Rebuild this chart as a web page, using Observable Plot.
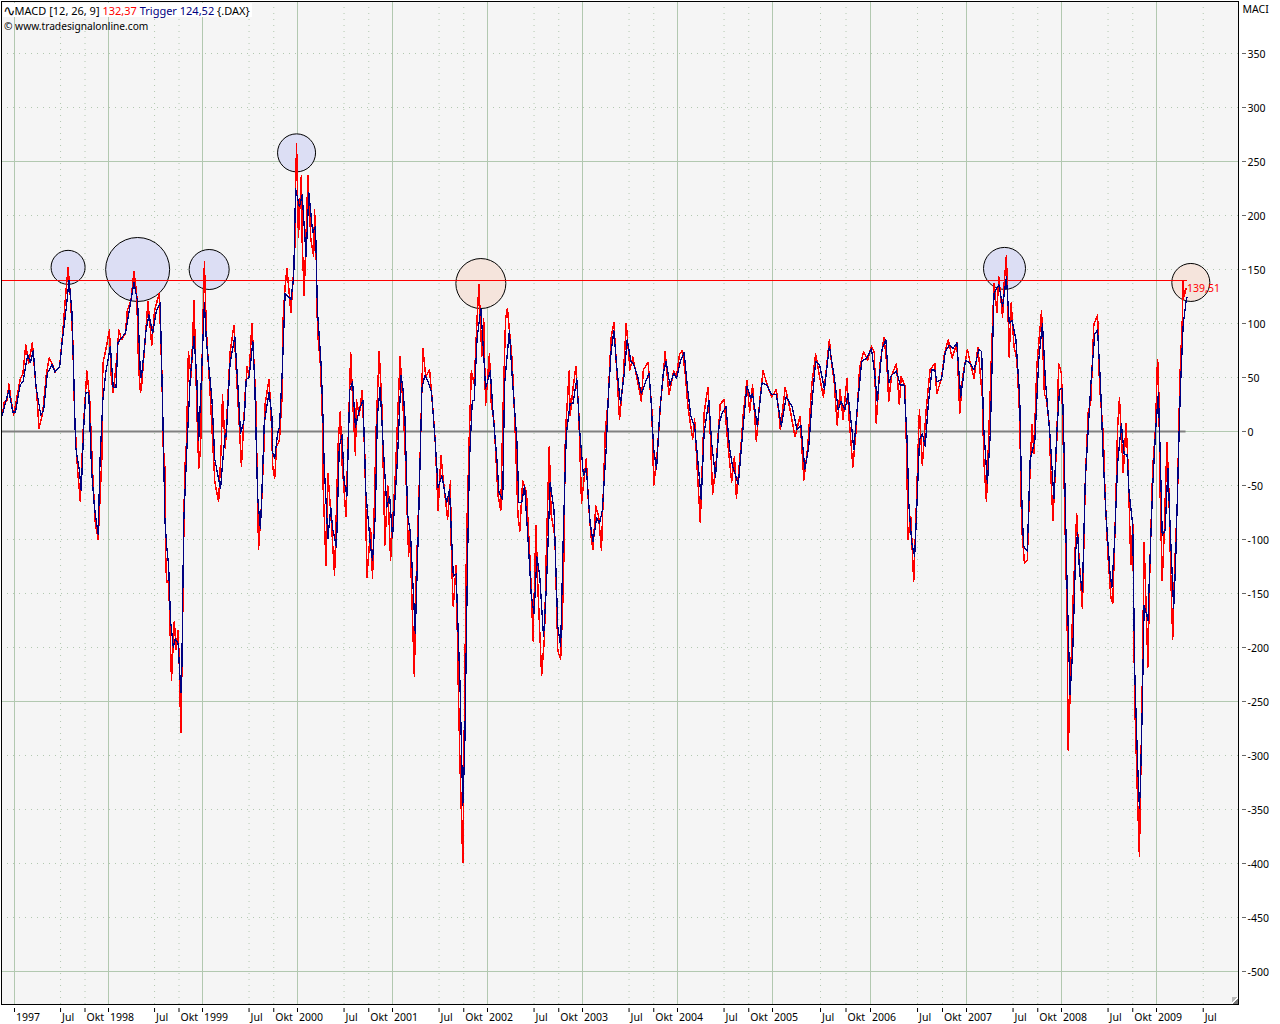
<!DOCTYPE html>
<html><head><meta charset="utf-8">
<script src="https://cdn.jsdelivr.net/npm/d3@7"></script>
<script src="https://cdn.jsdelivr.net/npm/@observablehq/plot@0.6"></script>
<style>
html,body{margin:0;padding:0;background:#fff}
#wrap{position:relative;width:1280px;height:1024px;font-family:"Noto Sans",sans-serif}
#wrap svg{display:block}
.hd{position:absolute;white-space:pre;color:#000;font-family:"Noto Sans",sans-serif;line-height:15px}
#h1{top:3px;left:3px;font-size:11px;background:#fff;padding:0 2px 0 0;height:14px}
#h1 b{font:400 15px "DejaVu Sans",sans-serif;line-height:14px;vertical-align:-1px;letter-spacing:-1px}
#h2{top:19px;left:4px;font-size:10.2px}
#grip{position:absolute;left:1232px;top:997px;width:6px;height:7px;background:linear-gradient(135deg,#bbb 0 45%,#fff 45% 60%,#777 60%)}
</style></head><body>
<div id="wrap">
<div id="chart"></div>
<div class="hd" id="h1"><b>∿</b>MACD [12, 26, 9] <span style="color:#f00">132,37</span> <span style="color:#000080">Trigger 124,52</span> {.DAX}</div>
<div class="hd" id="h2">© www.tradesignalonline.com</div>
<div id="grip"></div>
</div>
<script>
// x = hundredths of a year after Jan 1997 (1997 = 0, 1998 = 100 ...), y = indicator value
const macd1997=[[-13,15],[-11,27],[-8,29],[-6,44],[-4,31],[-1,15],[2,29],[6,48],[9,54],[12,80],[15,63],[19,82],[22,50],[24,31],[26,3],[30,17],[34,54],[37,68],[40,63],[43,55],[48,60],[51,88],[54,122],[57,152],[59,131],[62,85],[64,13],[67,-34],[70,-65],[73,0],[77,56],[80,30],[83,-36],[86,-85],[89,-100],[93,-23],[94,63],[97,75]];
const macd1998=[[101,94],[103,50],[105,36],[109,69],[111,94],[114,85],[118,91],[120,112],[124,122],[127,148],[130,128],[132,60],[134,36],[135,40],[139,85],[142,120],[146,80],[149,112],[154,128],[157,48],[158,-11],[160,-34],[161,-124],[162,-140],[164,-137],[167,-230],[170,-176],[172,-202],[174,-184],[175,-205],[177,-279],[179,-168],[181,-37],[183,-10],[185,74],[188,50],[191,121],[194,20],[196,-34],[198,-14]];
const macd1999=[[200,85],[202,157],[204,94],[208,36],[211,-14],[213,-47],[217,-65],[220,-8],[221,34],[224,-16],[229,73],[233,98],[238,17],[241,-32],[245,36],[247,60],[249,50],[252,100],[256,32],[258,-60],[259,-109],[262,-70],[265,-8],[266,26],[270,48],[272,20],[274,-33],[276,-43],[278,-14],[281,-8],[284,36],[285,106],[287,135],[289,151],[293,110],[295,135],[297,163]];
const macd2000=[[298,225],[299,266],[301,180],[304,237],[305,175],[307,126],[311,237],[314,178],[317,162],[318,205],[320,152],[321,94],[324,63],[326,20],[327,-51],[330,-124],[332,-39],[335,-75],[339,-133],[343,-8],[345,18],[347,-30],[351,-79],[356,73],[358,30],[361,-22],[362,29],[365,15],[368,38],[371,-25],[373,-135],[377,-90],[379,-136],[383,8],[386,74],[389,20],[392,-105],[395,-50],[398,-119]];
const macd2001=[[403,-40],[408,69],[411,25],[413,-10],[417,-116],[418,-86],[423,-227],[425,-134],[429,-27],[432,77],[435,51],[439,57],[441,37],[443,15],[445,-10],[448,-73],[451,-22],[453,-41],[458,-81],[461,-46],[462,-116],[464,-162],[467,-124],[469,-226],[471,-307],[474,-399],[476,-240],[478,-98],[481,1],[483,56],[486,44],[489,104],[491,136],[494,70],[496,104]];
const macd2002=[[498,24],[502,72],[504,26],[507,8],[511,-59],[514,-73],[516,8],[519,104],[521,114],[526,65],[529,5],[532,-77],[534,-92],[537,-46],[541,-56],[545,-123],[548,-194],[551,-87],[553,-144],[557,-226],[560,-190],[562,-109],[565,-14],[567,-77],[571,-98],[574,-203],[577,-211],[580,-141],[582,-2],[586,56],[587,15],[590,40],[593,60],[596,19],[599,-66]];
const macd2003=[[604,-25],[606,-62],[609,-97],[611,-109],[614,-69],[617,-79],[620,-110],[622,-54],[624,0],[627,29],[630,86],[633,101],[636,57],[639,11],[643,51],[646,100],[650,57],[653,69],[657,51],[662,28],[664,57],[669,64],[673,20],[675,-50],[679,-17],[682,25],[685,51],[687,74],[691,34],[696,56],[699,51]];
const macd2004=[[702,71],[705,75],[708,55],[711,23],[716,-7],[718,12],[721,-39],[724,-84],[728,17],[732,41],[734,8],[737,-58],[741,-26],[745,25],[749,30],[753,-11],[757,-47],[760,-23],[762,-62],[767,-11],[769,14],[773,47],[776,18],[779,43],[783,-9],[787,32],[790,56],[795,42],[799,32]];
const macd2005=[[804,39],[808,2],[813,41],[818,20],[823,-5],[828,14],[832,-45],[836,-14],[840,42],[844,72],[848,51],[852,32],[858,85],[860,66],[863,45],[866,6],[869,39],[872,11],[876,49],[878,14],[882,-33],[885,-2],[889,60],[893,74],[897,66]];
const macd2006=[[901,79],[904,73],[906,8],[910,63],[914,87],[917,63],[919,28],[922,52],[927,63],[930,25],[932,51],[936,42],[938,-35],[939,-100],[942,-79],[945,-139],[947,-90],[950,-5],[951,20],[954,-31],[958,20],[962,57],[967,63],[969,35],[974,49],[977,72],[981,85],[985,68],[990,82],[993,17],[996,51]];
const macd2007=[[1001,76],[1004,63],[1008,49],[1012,78],[1017,29],[1018,-23],[1021,-65],[1023,-15],[1026,63],[1029,137],[1032,110],[1034,143],[1038,106],[1039,130],[1042,163],[1045,69],[1047,119],[1050,79],[1053,66],[1056,14],[1058,-88],[1061,-122],[1064,-119],[1067,-32],[1069,6],[1071,-20],[1074,60],[1079,112],[1082,35],[1084,30],[1087,8],[1089,-45],[1091,-82],[1095,-10],[1097,63],[1100,54]];
const macd2008=[[1102,-17],[1106,-176],[1107,-295],[1109,-245],[1112,-159],[1116,-76],[1118,-110],[1122,-164],[1125,-48],[1128,17],[1131,29],[1134,99],[1138,108],[1140,43],[1144,-3],[1146,-62],[1149,-116],[1152,-154],[1154,-159],[1157,-72],[1159,3],[1161,31],[1165,-38],[1168,7],[1170,-30],[1173,-123],[1175,-86],[1177,-247],[1180,-339],[1182,-393],[1185,-236],[1187,-103],[1191,-218],[1193,-127],[1196,-34],[1199,3]];
const macd2009=[[1201,66],[1202,60],[1204,-65],[1206,-138],[1208,-96],[1211,-10],[1213,-55],[1215,-134],[1217,-192],[1219,-127],[1222,-62],[1224,27],[1225,60],[1227,101],[1228,139.51],[1229,125],[1231,132.37]];

const trigger1997=[[-13,15],[-10,26],[-6,38],[-2,18],[1,18],[6,43],[9,46],[14,71],[17,64],[20,75],[23,41],[28,15],[31,20],[35,54],[40,62],[43,55],[48,60],[51,85],[55,114],[58,140],[61,112],[63,54],[65,-14],[69,-36],[71,-55],[74,10],[76,36],[79,36],[82,-36],[85,-70],[89,-95],[91,-26],[94,29],[97,54]];
const trigger1998=[[102,79],[105,41],[108,41],[110,82],[114,87],[118,91],[123,117],[127,138],[131,120],[134,50],[135,50],[140,94],[143,108],[147,91],[151,112],[155,119],[158,8],[160,-82],[162,-107],[164,-125],[166,-175],[169,-200],[171,-192],[174,-196],[177,-242],[178,-221],[180,-85],[183,-23],[187,50],[191,88],[194,48],[196,-8],[199,54]];
const trigger1999=[[202,119],[204,85],[210,29],[213,-26],[219,-53],[222,-20],[224,-2],[225,-5],[229,63],[234,88],[238,32],[240,-2],[244,11],[246,48],[249,50],[253,83],[255,45],[258,-60],[261,-90],[263,-45],[265,8],[270,36],[273,15],[274,-20],[276,-25],[279,-2],[281,4],[284,57],[287,128],[290,125],[293,122],[296,143]];
const trigger2000=[[298,225],[302,208],[305,219],[309,162],[312,221],[316,184],[319,190],[321,112],[325,60],[327,8],[328,-29],[332,-99],[335,-70],[337,-90],[341,-107],[344,-14],[347,-3],[349,-45],[352,-60],[355,38],[358,46],[361,4],[365,20],[369,29],[372,-57],[377,-108],[379,-119],[382,-76],[384,13],[387,41],[390,-10],[394,-70],[397,-60],[400,-98]];
const trigger2001=[[405,-29],[409,52],[411,40],[413,15],[416,-77],[419,-95],[424,-187],[427,-98],[431,40],[434,52],[438,45],[441,37],[445,-10],[448,-52],[452,-41],[457,-66],[460,-54],[464,-134],[467,-132],[471,-233],[474,-346],[476,-297],[479,-119],[481,-27],[484,28],[486,29],[489,86],[493,114],[495,86]];
const trigger2002=[[498,40],[503,56],[506,15],[510,-27],[512,-56],[516,-63],[518,44],[523,93],[526,51],[531,-10],[533,-66],[536,-66],[539,-50],[543,-105],[546,-151],[549,-169],[552,-116],[555,-134],[559,-190],[562,-144],[566,-47],[570,-73],[574,-181],[577,-199],[580,-88],[583,-2],[587,26],[590,26],[594,49],[597,1]];
const trigger2003=[[601,-41],[604,-34],[608,-84],[611,-102],[615,-80],[618,-85],[621,-72],[625,-15],[627,29],[630,73],[633,93],[636,60],[640,26],[644,54],[647,85],[651,65],[654,62],[658,51],[662,35],[666,45],[670,54],[672,31],[675,-17],[678,-35],[681,14],[685,54],[688,65],[692,43],[696,54],[699,49]];
const trigger2004=[[703,65],[707,73],[710,45],[714,14],[718,5],[721,-23],[725,-63],[728,-2],[733,29],[736,-11],[740,-42],[744,8],[747,17],[751,23],[755,-17],[758,-32],[764,-49],[769,3],[773,42],[777,31],[779,35],[784,5],[789,45],[794,43],[799,34]];
const trigger2005=[[804,34],[809,5],[814,32],[820,23],[825,2],[829,6],[833,-35],[837,-14],[840,23],[844,65],[848,62],[853,39],[858,79],[863,51],[867,20],[870,28],[874,20],[877,35],[881,2],[883,-17],[886,17],[891,65],[896,68]];
const trigger2006=[[901,77],[905,48],[907,28],[912,76],[916,85],[919,45],[922,52],[927,56],[931,43],[935,43],[938,-5],[940,-69],[943,-103],[946,-116],[948,-76],[951,-8],[954,-2],[957,-14],[960,23],[964,57],[967,57],[969,46],[974,48],[978,74],[982,80],[986,77],[990,82],[994,32],[999,66]];
const trigger2007=[[1004,63],[1008,57],[1013,76],[1016,74],[1018,5],[1022,-48],[1025,-3],[1029,128],[1034,136],[1038,116],[1042,143],[1045,100],[1048,103],[1052,85],[1056,32],[1058,-57],[1060,-106],[1064,-111],[1067,-26],[1072,-8],[1076,66],[1080,100],[1083,48],[1088,-5],[1092,-62],[1095,-2],[1098,39]];
const trigger2008=[[1101,40],[1103,-26],[1106,-147],[1109,-244],[1112,-199],[1115,-110],[1117,-94],[1119,-131],[1122,-148],[1125,-45],[1128,0],[1131,45],[1135,90],[1138,94],[1141,45],[1144,-27],[1147,-79],[1151,-130],[1153,-144],[1156,-99],[1159,-31],[1163,7],[1166,-21],[1169,-21],[1171,-55],[1175,-87],[1177,-219],[1180,-305],[1182,-349],[1183,-330],[1185,-257],[1187,-161],[1191,-175],[1193,-123],[1196,-51],[1199,0]];
const trigger2009=[[1202,36],[1204,-24],[1206,-96],[1209,-92],[1212,-34],[1214,-82],[1218,-164],[1220,-123],[1223,-24],[1225,38],[1228,99],[1231,120],[1232,124.52]];

const macd=[macd1997,macd1998,macd1999,macd2000,macd2001,macd2002,macd2003,macd2004,macd2005,macd2006,macd2007,macd2008,macd2009].flat();
const trigger=[trigger1997,trigger1998,trigger1999,trigger2000,trigger2001,trigger2002,trigger2003,trigger2004,trigger2005,trigger2006,trigger2007,trigger2008,trigger2009].flat();

const lastMacdT=1231, lastMacd=132.37, levelValue=139.51, levelLabel="139,51";
const yTicks=[-500,-450,-400,-350,-300,-250,-200,-150,-100,-50,0,50,100,150,200,250,300,350];
const ySolid=[-500,-250,0,250];
const yDotted=[-450,-400,-350,-300,-200,-150,-100,-50,50,100,150,200,300,350];
const xYears=[0,100,200,300,400,500,600,700,800,900,1000,1100,1200];
const xQuarterTicks=[49,75,149,175,249,275,349,375,449,475,549,575,649,675,749,775,849,875,949,975,1049,1075,1149,1175,1249];
const yearLabels=["1997","1998","1999","2000","2001","2002","2003","2004","2005","2006","2007","2008","2009"];
const markerT=[57,131,207,299,1040];
const markerV=[152,150,150,258,151];
const markerR=[17,32,20,19,21];
const warnT=[493,1236];
const warnV=[137,138];
const warnR=[25,19];

const gridC="#b2c8b0", bg="#f5f5f5", ink="#000", font='"Noto Sans",sans-serif';
const xLabels=[...xYears.map((t,i)=>({t,s:yearLabels[i]})),...xQuarterTicks.map((t,i)=>({t,s:i%2?"Okt":"Jul"}))];
const lineOpts={x:"0",y:"1",curve:"linear",shapeRendering:"crispEdges"};

const chart=Plot.plot({
  width:1280,height:1024,marginLeft:1,marginRight:42,marginTop:1,marginBottom:20,
  style:{background:"#fff",fontFamily:font,fontSize:"10.5px",color:"#000"},
  x:{type:"linear",
     domain:[-14,0,100,200,300,400,500,600,700,800,900,1000,1100,1200,1286],
     range:[1,14,108,202,297,392,487,582,677,772,870,966,1061,1156,1238]},
  y:{type:"linear",domain:[-530.56,398.15]},
  marks:[
    Plot.frame({fill:bg,stroke:null}),
    Plot.ruleX(xYears,{stroke:gridC,strokeWidth:1}),
    Plot.ruleX(xQuarterTicks,{stroke:gridC,strokeDasharray:"1,5"}),
    Plot.ruleY(ySolid,{stroke:gridC,strokeWidth:1}),
    Plot.ruleY(yDotted,{stroke:gridC,strokeDasharray:"1,5"}),
    ...markerT.map((t,i)=>Plot.dot([[t,markerV[i]]],{x:"0",y:"1",r:markerR[i],fill:"#dcdef4",fillOpacity:1,stroke:ink,strokeWidth:1})),
    ...warnT.map((t,i)=>Plot.dot([[t,warnV[i]]],{x:"0",y:"1",r:warnR[i],fill:"#f5e4dc",fillOpacity:1,stroke:ink,strokeWidth:1})),
    Plot.ruleY([0],{x1:-14,x2:lastMacdT,stroke:"#808080",strokeWidth:2}),
    Plot.ruleY([levelValue],{x1:-14,x2:1233,stroke:"#f00",strokeWidth:1,shapeRendering:"crispEdges"}),
    Plot.line(macd,{...lineOpts,stroke:"#f00",strokeWidth:1.5}),
    Plot.line(trigger,{...lineOpts,stroke:"#000080",strokeWidth:1.3}),
    Plot.text([[lastMacdT,lastMacd]],{x:"0",y:"1",text:()=>levelLabel,fill:"#f00",textAnchor:"start",dx:1}),
    Plot.frame({stroke:ink,strokeWidth:1}),
    Plot.axisY(yTicks,{anchor:"right",tickSize:4,dx:3,stroke:"#666",tickFormat:()=>"",label:null}),
    Plot.axisY(yTicks,{anchor:"right",tickSize:0,tickPadding:9,dy:1,tickFormat:d=>String(d),label:null,fill:"#000"}),
    Plot.text(["MACI"],{frameAnchor:"top-right",textAnchor:"start",dx:4,dy:4,fill:"#000"}),
    Plot.axisX(xLabels.map(d=>d.t),{anchor:"bottom",tickSize:4,dy:4,stroke:"#000",tickFormat:()=>"",label:null}),
    Plot.text(xLabels,{x:"t",frameAnchor:"bottom",text:"s",textAnchor:"start",dx:1.5,dy:16,fill:"#000"})
  ]
});
document.getElementById("chart").appendChild(chart);
</script>
</body></html>
